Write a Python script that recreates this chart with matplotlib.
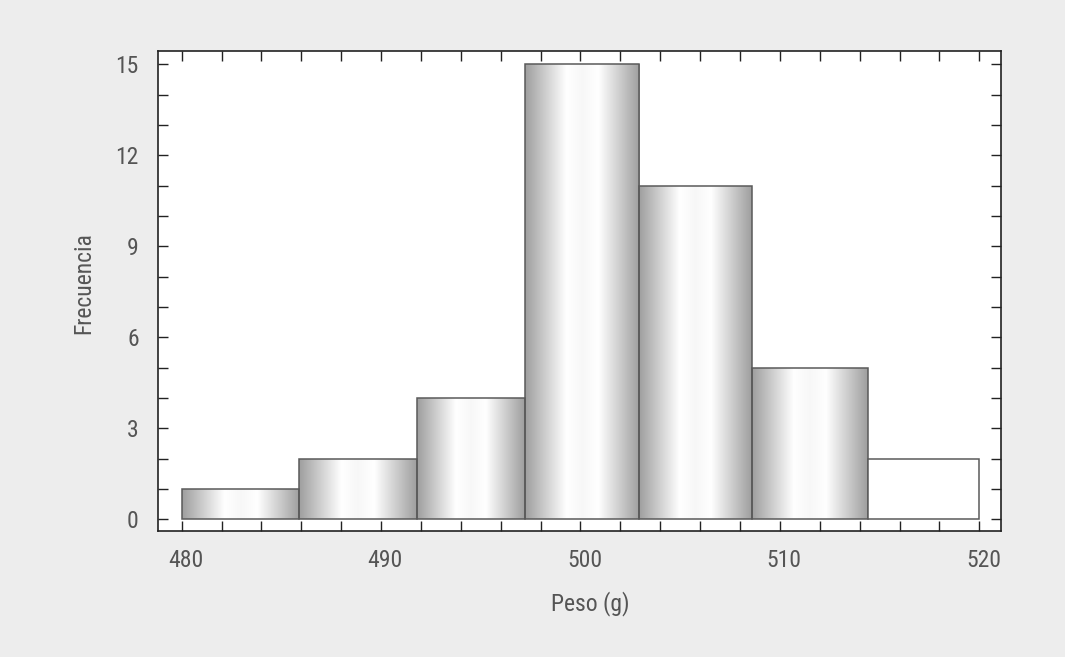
import numpy as np
import matplotlib
matplotlib.use("Agg")
import matplotlib.pyplot as plt
from matplotlib.transforms import ScaledTranslation

plt.rcParams['font.family'] = ['Roboto Condensed', 'Roboto', 'DejaVu Sans']

# Data
bin_edges = [480.0, 485.9, 491.8, 497.2, 502.95, 508.6, 514.4, 520.0]
counts = [1, 2, 4, 15, 11, 5, 2]
gradient_bar = [True, True, True, True, True, True, False]
x_label = "Peso (g)"
y_label = "Frecuencia"
x_major = [480, 490, 500, 510, 520]
y_major = [0, 3, 6, 9, 12, 15]

W, H = 1065, 657
fig = plt.figure(figsize=(W / 100, H / 100), dpi=100, facecolor='#ededed')
ax = fig.add_axes([158.3 / W, 1 - 531 / H, (1000.7 - 158.3) / W, (531 - 50.7) / H])
ax.set_facecolor('white')

edges = np.array(bin_edges)
lefts = edges[:-1]
widths = np.diff(edges)

edge_col = '#5a5a5a'
bars = ax.bar(lefts, counts, width=widths, align='edge', facecolor='white',
              edgecolor=edge_col, linewidth=1.1, zorder=2)

t = np.linspace(0, 1, 300)
shade = np.interp(t, [0, 0.36, 0.5, 0.64, 1], [0.62, 1.0, 0.97, 1.0, 0.62])
grad = np.dstack([shade, shade, shade])[None, :, :].reshape(1, -1, 3)

for b, x0, w, h, g in zip(bars, lefts, widths, counts, gradient_bar):
    if not g:
        continue
    b.set_facecolor('none')
    im = ax.imshow(grad, extent=[x0, x0 + w, 0, h], aspect='auto',
                   interpolation='bilinear', zorder=1.5)
    im.set_clip_path(b)

ax.set_aspect('auto')
ax.set_xlim(478.83, 521.07)
ax.set_ylim(-0.386, 15.45)

ax.set_xticks(x_major)
ax.set_xticks(np.arange(480, 521, 2), minor=True)
ax.set_yticks(y_major)
ax.set_yticks(np.arange(0, 16, 1), minor=True)

text_col = '#555555'
for which in ('major', 'minor'):
    ax.tick_params(axis='both', which=which, direction='in', length=7.2, width=1.0,
                   color='#222222', top=True, right=True)
ax.tick_params(axis='both', which='major', labelsize=17, labelcolor=text_col)
ax.tick_params(axis='x', which='major', pad=13)
ax.tick_params(axis='y', which='major', pad=14)

offset = ScaledTranslation(4 / 100, 0, fig.dpi_scale_trans)
for lab in ax.get_xticklabels():
    lab.set_transform(lab.get_transform() + offset)

for s in ax.spines.values():
    s.set_color('#222222')
    s.set_linewidth(1.2)

fig.text(590 / W, 1 - 604 / H, x_label, ha='center', va='center', fontsize=17, color=text_col)
fig.text(84 / W, 1 - 283 / H, y_label, ha='center', va='center', rotation=90,
         fontsize=17, color=text_col)

fig.savefig('out.png', dpi=100, facecolor=fig.get_facecolor())
